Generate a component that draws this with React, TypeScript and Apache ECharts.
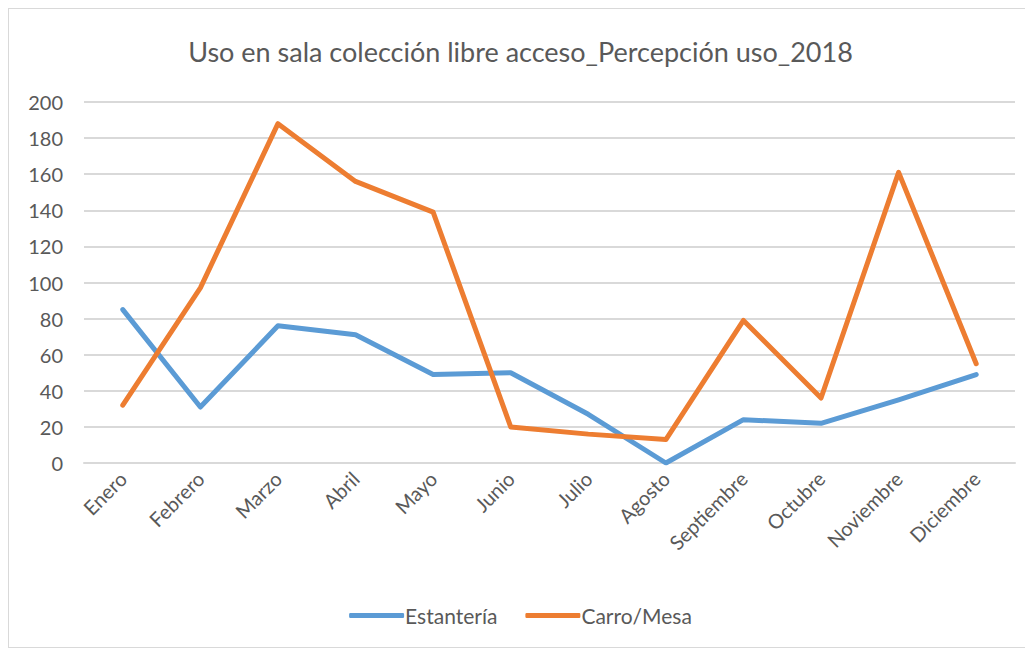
import React, { useEffect, useRef } from "react";
import * as echarts from "echarts";

const categories = ["Enero", "Febrero", "Marzo", "Abril", "Mayo", "Junio", "Julio", "Agosto", "Septiembre", "Octubre", "Noviembre", "Diciembre"];
const estanteria = [85, 31, 76, 71, 49, 50, 27, 0, 24, 22, 35, 49];
const carroMesa = [32, 97, 188, 156, 139, 20, 16, 13, 79, 36, 161, 55];
const titleText = "Uso en sala colección libre acceso_Percepción uso_2018";

const FONT = "Lato, 'Open Sans', sans-serif";
const GREY = "#595959";

export default function App() {
  const ref = useRef<HTMLDivElement>(null);
  useEffect(() => {
    if (!ref.current) return;
    const chart = echarts.init(ref.current, null, { renderer: "svg" });
    chart.setOption({
      animation: false,
      backgroundColor: "#ffffff",
      title: {
        text: titleText,
        left: "center",
        top: 24,
        textStyle: { fontFamily: FONT, fontSize: 27, fontWeight: "normal", color: GREY },
      },
      legend: {
        bottom: 16,
        left: "center",
        itemWidth: 55,
        itemHeight: 5,
        itemGap: 28,
        icon: "roundRect",
        textStyle: { fontFamily: FONT, fontSize: 21, color: GREY, padding: [0, 0, 0, -4] },
        data: ["Estantería", "Carro/Mesa"],
      },
      grid: { left: 75, right: 17, top: 93, bottom: 184 },
      xAxis: {
        type: "category",
        data: categories,
        boundaryGap: true,
        axisLine: { show: true, lineStyle: { color: "#d9d9d9", width: 2 } },
        axisTick: { show: false },
        axisLabel: { rotate: 45, fontFamily: FONT, fontSize: 20, color: GREY, margin: 12, interval: 0 },
      },
      yAxis: {
        type: "value",
        min: 0,
        max: 200,
        interval: 20,
        axisLine: { show: false },
        axisTick: { show: false },
        splitLine: { lineStyle: { color: "#d9d9d9", width: 2 } },
        axisLabel: { fontFamily: FONT, fontSize: 20, color: GREY, margin: 21 },
      },
      series: [
        {
          name: "Estantería",
          type: "line",
          data: estanteria,
          symbol: "none",
          lineStyle: { color: "#5B9BD5", width: 5, cap: "round", join: "round" },
          itemStyle: { color: "#5B9BD5" },
        },
        {
          name: "Carro/Mesa",
          type: "line",
          data: carroMesa,
          symbol: "none",
          lineStyle: { color: "#ED7D31", width: 5, cap: "round", join: "round" },
          itemStyle: { color: "#ED7D31" },
        },
      ],
    });
    return () => chart.dispose();
  }, []);
  return (
    <div
      ref={ref}
      style={{ width: 1023, height: 638, border: "1px solid #d9d9d9", boxSizing: "content-box" }}
    />
  );
}
